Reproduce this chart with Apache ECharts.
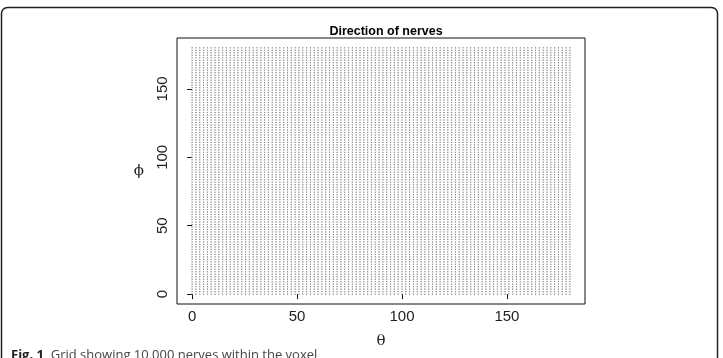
<!DOCTYPE html>
<html>
<head>
<meta charset="utf-8">
<script src="https://cdn.jsdelivr.net/npm/echarts@6/dist/echarts.min.js"></script>
<style>
  html, body { margin: 0; padding: 0; background: #fff; }
  #chart { width: 723px; height: 358px; }
</style>
</head>
<body>
<div id="chart"></div>
<script>
// grid levels used for both angles (100 each -> 10,000 nerves)
const thetaLevels = [
  0, 1.82, 3.64, 5.45, 7.27, 9.09, 10.91, 12.73, 14.55, 16.36, 18.18,
  20, 21.82, 23.64, 25.45, 27.27, 29.09, 30.91, 32.73, 34.55, 36.36, 38.18,
  40, 41.82, 43.64, 45.45, 47.27, 49.09, 50.91, 52.73, 54.55, 56.36, 58.18,
  60, 61.82, 63.64, 65.45, 67.27, 69.09, 70.91, 72.73, 74.55, 76.36, 78.18,
  80, 81.82, 83.64, 85.45, 87.27, 89.09, 90.91, 92.73, 94.55, 96.36, 98.18,
  100, 101.82, 103.64, 105.45, 107.27, 109.09, 110.91, 112.73, 114.55, 116.36, 118.18,
  120, 121.82, 123.64, 125.45, 127.27, 129.09, 130.91, 132.73, 134.55, 136.36, 138.18,
  140, 141.82, 143.64, 145.45, 147.27, 149.09, 150.91, 152.73, 154.55, 156.36, 158.18,
  160, 161.82, 163.64, 165.45, 167.27, 169.09, 170.91, 172.73, 174.55, 176.36, 178.18,
  180
]
const phiLevels = thetaLevels.slice()
const xTicks = [0, 50, 100, 150]
const yTicks = [0, 50, 100, 150]

const points = []
thetaLevels.forEach(t => {
  phiLevels.forEach(p => points.push([t, p]))
})

const chart = echarts.init(document.getElementById('chart'), null, { renderer: 'canvas' })

const labelFont = { fontFamily: 'Liberation Sans, Arial, sans-serif', fontSize: 15, color: '#222' }

chart.setOption({
  animation: false,
  title: {
    text: 'Direction of nerves',
    left: 381,
    top: 20,
    textAlign: 'center',
    textStyle: { fontFamily: 'Liberation Sans, Arial, sans-serif', fontSize: 12.5, fontWeight: 'bold', color: '#000' }
  },
  grid: {
    left: 177, right: 138, top: 38, bottom: 54,
    show: true, borderColor: '#111', borderWidth: 1, backgroundColor: 'transparent'
  },
  xAxis: {
    type: 'value',
    min: -7.2, max: 187.2,
    name: 'θ',
    nameLocation: 'middle',
    nameGap: 30,
    nameTextStyle: { fontFamily: 'DejaVu Serif, serif', fontSize: 15, color: '#222' },
    axisLine: { show: false },
    splitLine: { show: false },
    axisTick: { show: true, inside: false, length: 5, lineStyle: { color: '#111' }, customValues: xTicks },
    axisLabel: Object.assign({ margin: 5, customValues: xTicks }, labelFont)
  },
  yAxis: {
    type: 'value',
    min: -7.2, max: 187.2,
    name: 'ϕ',
    nameLocation: 'middle',
    nameGap: 33,
    nameRotate: 0,
    nameTextStyle: { fontFamily: 'DejaVu Serif, serif', fontSize: 15, color: '#222' },
    axisLine: { show: false },
    splitLine: { show: false },
    axisTick: { show: true, inside: false, length: 5, lineStyle: { color: '#111' }, customValues: yTicks },
    axisLabel: Object.assign({ margin: 7, rotate: 90, customValues: yTicks }, labelFont)
  },
  graphic: [
    {
      type: 'rect',
      shape: { x: 1.5, y: 7.5, width: 716, height: 400, r: [6, 6, 0, 0] },
      style: { fill: 'none', stroke: '#222', lineWidth: 1.5 },
      silent: true
    },
    {
      type: 'text',
      left: 11, top: 349,
      style: {
        text: '{b|Fig. 1}  Grid showing 10,000 nerves within the voxel',
        fontFamily: 'Open Sans, Noto Sans, sans-serif',
        fontSize: 13,
        fill: '#444',
        rich: { b: { fontWeight: 'bold', fontSize: 13, fontFamily: 'Open Sans, Noto Sans, sans-serif', fill: '#222' } }
      }
    }
  ],
  series: [{
    type: 'scatter',
    data: points,
    symbol: 'rect',
    symbolSize: 1,
    large: true,
    largeThreshold: 2000,
    itemStyle: { color: '#777' }
  }]
})
</script>
</body>
</html>
